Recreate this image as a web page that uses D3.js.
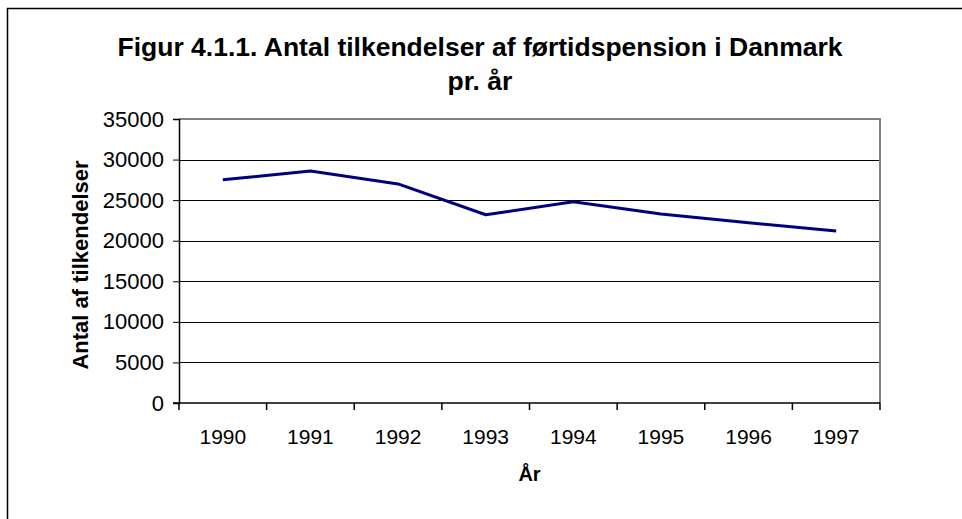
<!DOCTYPE html>
<html><head><meta charset="utf-8">
<script src="https://cdn.jsdelivr.net/npm/d3@7"></script>
<style>body{margin:0;background:#fff}svg{display:block}text{font-family:"Liberation Sans",Arial,sans-serif}</style>
</head><body>
<svg id="c" width="962" height="519"></svg>
<script>
const years = ["1990","1991","1992","1993","1994","1995","1996","1997"];
const values = [27500, 28600, 27000, 23200, 24800, 23300, 22200, 21200];
const yTicks = [0,5000,10000,15000,20000,25000,30000,35000];
const titleLines = ["Figur 4.1.1. Antal tilkendelser af førtidspension i Danmark", "pr. år"];
const yTitle = "Antal af tilkendelser";
const xTitle = "År";

const svg = d3.select("#c");
const L = 179, R = 880, T = 119, B = 403;
svg.append("rect").attr("x",7.5).attr("y",8.5).attr("width",1000).attr("height",1000)
  .attr("fill","none").attr("stroke","#000").attr("stroke-width",1.5);

const x = d3.scaleBand().domain(years).range([L,R]);
const y = d3.scaleLinear().domain([0,35000]).range([B,T]);

svg.append("g").selectAll("line").data(yTicks.filter(d=>d>0&&d<35000)).join("line")
  .attr("x1",L).attr("x2",R).attr("y1",d=>Math.round(y(d))+0.5).attr("y2",d=>Math.round(y(d))+0.5)
  .attr("stroke","#000").attr("stroke-width",1);
svg.append("path").attr("d",`M${L},${T}H${R}V${B}`).attr("fill","none").attr("stroke","#808080").attr("stroke-width",2);

const yAxis = svg.append("g").attr("transform",`translate(${L},0)`)
  .call(d3.axisLeft(y).tickValues(yTicks).tickSize(6).tickPadding(9).tickFormat(d3.format("d")));
yAxis.select(".domain").attr("stroke","#000").attr("stroke-width",1.5);
yAxis.selectAll("text").attr("font-size",22).attr("fill","#000");

svg.append("line").attr("x1",L-6).attr("x2",R).attr("y1",B).attr("y2",B).attr("stroke","#000").attr("stroke-width",1.5);
const bounds = years.map(d=>x(d)).concat([R]);
svg.append("g").selectAll("line").data(bounds).join("line")
  .attr("x1",d=>d).attr("x2",d=>d).attr("y1",B).attr("y2",B+7).attr("stroke","#000").attr("stroke-width",1.5);
svg.append("g").selectAll("text").data(years).join("text")
  .attr("x",d=>x(d)+x.bandwidth()/2).attr("y",444).attr("text-anchor","middle")
  .attr("font-size",21).text(d=>d);

const line = d3.line().x((d,i)=>x(years[i])+x.bandwidth()/2).y(d=>y(d));
svg.append("path").datum(values).attr("d",line).attr("fill","none")
  .attr("stroke","#000080").attr("stroke-width",3).attr("stroke-linejoin","round");

svg.append("text").attr("x",(L+R)/2).attr("y",481).attr("text-anchor","middle")
  .attr("font-size",20).attr("font-weight","bold").text(xTitle);
svg.append("text").attr("transform","translate(88,265) rotate(-90)").attr("text-anchor","middle")
  .attr("font-size",22).attr("font-weight","bold").text(yTitle);
svg.append("g").selectAll("text").data(titleLines).join("text")
  .attr("x",480).attr("y",(d,i)=>56+i*34).attr("text-anchor","middle")
  .attr("font-size",26.5).attr("font-weight","bold").text(d=>d);
</script>
</body></html>
